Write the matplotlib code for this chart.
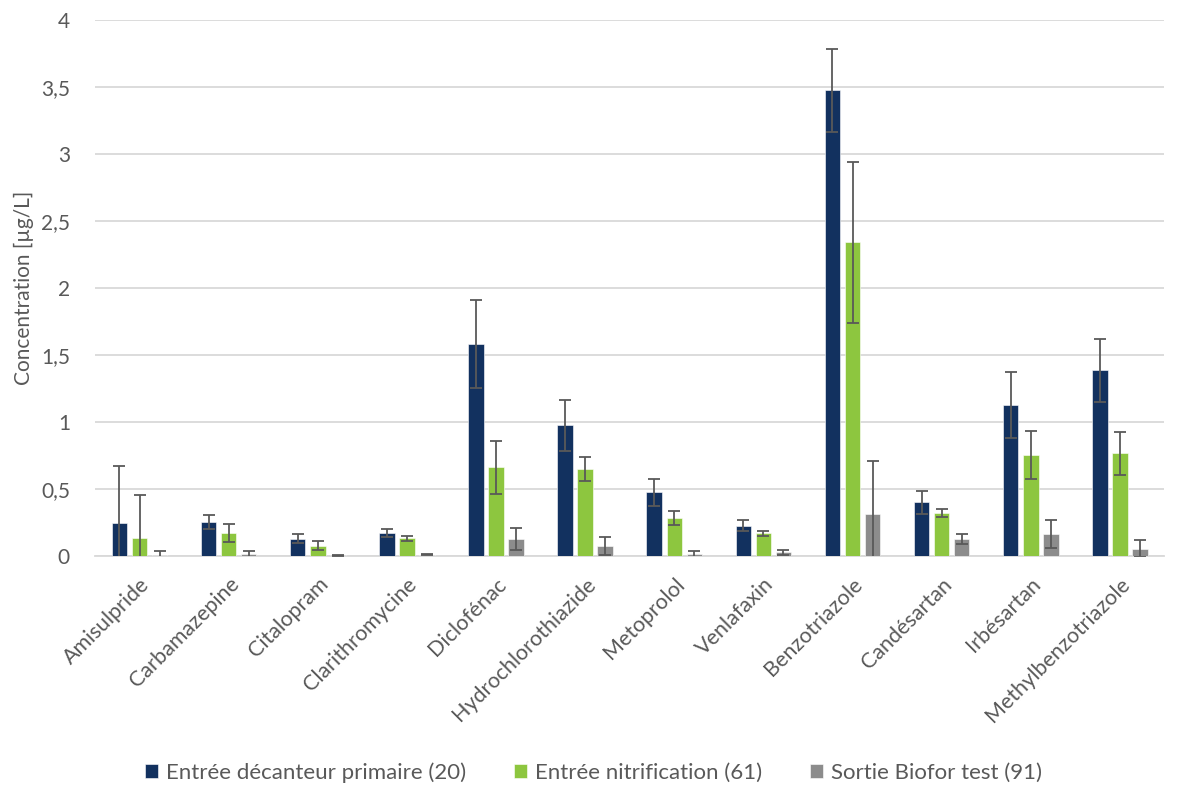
import matplotlib.pyplot as plt
import numpy as np
from matplotlib.ticker import FuncFormatter

plt.rcParams['font.family'] = ['Lato', 'DejaVu Sans']

# Data
compounds = ['Amisulpride', 'Carbamazepine', 'Citalopram', 'Clarithromycine', 'Diclofénac',
             'Hydrochlorothiazide', 'Metoprolol', 'Venlafaxin', 'Benzotriazole', 'Candésartan',
             'Irbésartan', 'Methylbenzotriazole']
series_names = ['Entrée décanteur primaire (20)', 'Entrée nitrification (61)', 'Sortie Biofor test (91)']

decanteur = [0.25, 0.255, 0.13, 0.17, 1.58, 0.975, 0.475, 0.225, 3.475, 0.40, 1.125, 1.385]
decanteur_err = [0.42, 0.05, 0.033, 0.03, 0.33, 0.19, 0.10, 0.04, 0.31, 0.085, 0.245, 0.235]

nitrification = [0.137, 0.172, 0.077, 0.132, 0.662, 0.65, 0.284, 0.169, 2.34, 0.321, 0.755, 0.768]
nitrification_err = [0.316, 0.07, 0.033, 0.02, 0.196, 0.09, 0.055, 0.02, 0.60, 0.03, 0.18, 0.16]

biofor = [0.004, 0.012, 0.005, 0.01, 0.127, 0.072, 0.012, 0.027, 0.316, 0.126, 0.162, 0.055]
biofor_err = [0.035, 0.028, 0.005, 0.005, 0.085, 0.067, 0.028, 0.018, 0.39, 0.04, 0.105, 0.065]

colors = ['#12315f', '#8dc63f', '#8c8c8c']

fig = plt.figure(figsize=(11.87, 7.89), dpi=100)
ax = fig.add_axes([0.080, 0.2953, 0.901, 0.6794])

x = np.arange(len(compounds))
width = 0.174
step = 0.225

values = [decanteur, nitrification, biofor]
errors = [decanteur_err, nitrification_err, biofor_err]
for i, (vals, errs) in enumerate(zip(values, errors)):
    ax.bar(x + (i - 1) * step, vals, width, color=colors[i], label=series_names[i],
           edgecolor='white', linewidth=0.4, zorder=3)
    ax.errorbar(x + (i - 1) * step, vals, yerr=errs, fmt='none', ecolor='#595959',
                elinewidth=1.3, capsize=4, capthick=1.3, zorder=4)

ax.set_xlim(-0.5, len(compounds) - 0.5)
ax.set_ylim(0, 4)
ax.set_yticks(np.arange(0, 4.01, 0.5))
ax.yaxis.set_major_formatter(FuncFormatter(lambda v, p: ('%g' % v).replace('.', ',')))
ax.grid(axis='y', color='#d9d9d9', linewidth=1.3, zorder=0)
ax.set_axisbelow(True)

for s in ['top', 'right', 'left']:
    ax.spines[s].set_visible(False)
ax.spines['bottom'].set_color('#d9d9d9')
ax.spines['bottom'].set_linewidth(1.3)

ax.tick_params(axis='both', length=0, labelcolor='#595959')
ax.tick_params(axis='y', labelsize=15, pad=18)
ax.set_xticks(x)
ax.set_xticklabels(compounds, rotation=45, ha='right', va='top', rotation_mode='anchor',
                   fontsize=15.5)
ax.tick_params(axis='x', pad=13)

ax.set_ylabel('Concentration [µg/L]', fontsize=15, color='#595959', labelpad=5)

fig.legend(loc='center', bbox_to_anchor=(0.5, 0.021), ncol=3, frameon=False,
           fontsize=16, labelcolor='#595959', handlelength=0.6, handleheight=0.6,
           handletextpad=0.35, columnspacing=2.15)

fig.savefig('out.png', dpi=100)
